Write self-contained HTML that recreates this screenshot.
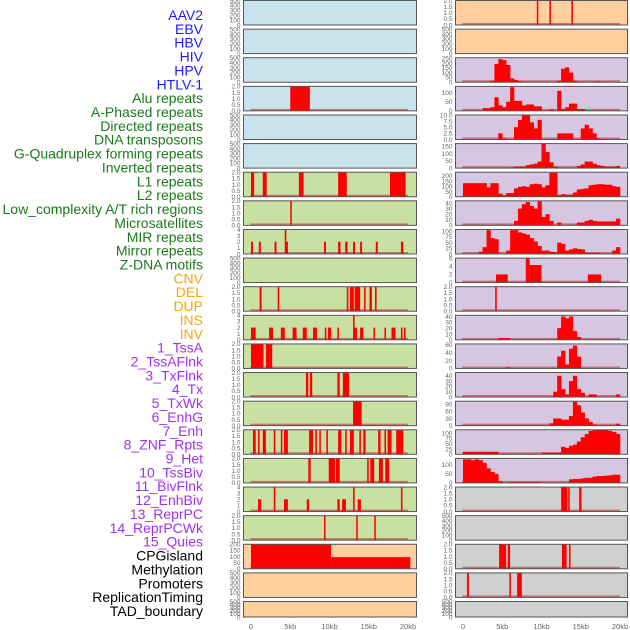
<!DOCTYPE html>
<html><head><meta charset="utf-8">
<style>
html,body{margin:0;padding:0;background:#fff;}
svg{display:block;font-family:"Liberation Sans",sans-serif;}
</style></head>
<body>
<svg id="chart" width="630" height="630" viewBox="0 0 630 630" xmlns="http://www.w3.org/2000/svg"></svg>
<script>
// ---- labels ----
const labelNames = ["AAV2","EBV","HBV","HIV","HPV","HTLV-1","Alu repeats","A-Phased repeats","Directed repeats","DNA transposons","G-Quadruplex forming repeats","Inverted repeats","L1 repeats","L2 repeats","Low_complexity A/T rich regions","Microsatellites","MIR repeats","Mirror repeats","Z-DNA motifs","CNV","DEL","DUP","INS","INV","1_TssA","2_TssAFlnk","3_TxFlnk","4_Tx","5_TxWk","6_EnhG","7_Enh","8_ZNF_Rpts","9_Het","10_TssBiv","11_BivFlnk","12_EnhBiv","13_ReprPC","14_ReprPCWk","15_Quies","CPGisland","Methylation","Promoters","ReplicationTiming","TAD_boundary"];
const labelGroups = [6,13,5,15,5];
const groupColors = ["#1a1aff","#1a7a1a","#ffa500","#a030f0","#000000"];
const xTicks = [0,5,10,15,20];
const xTickLabels = ["0","5kb","10kb","15kb","20kb"];

// ---- left column intervals [startKb,endKb,height] ----
const L3 = [[5.0,7.5,2]];
const L6 = [[0,0.4,2],[1.5,2.0,2],[6.1,6.7,2],[11.1,12.2,2],[17.7,19.7,2]];
const L7 = [[5.0,5.2,2]];
const L8 = [[0,0.25,2],[1.0,1.25,2],[3.0,3.25,2],[4.3,4.5,4],[4.4,4.7,2],[9.3,9.55,2],[11.1,11.4,2],[12.0,12.3,2],[13.0,13.25,2],[13.9,14.15,2],[15.9,16.15,2],[19.1,19.4,2]];
const L10 = [[1.1,1.35,2],[3.4,3.6,2],[12.2,12.4,2],[12.6,13.1,2],[13.2,13.9,2],[14.4,14.6,2],[15.1,15.4,2],[15.8,16.0,2]];
const L11 = [[0,0.6,2],[2.3,2.8,2],[3.8,4.3,2],[5.3,5.8,2],[6.6,7.1,2],[7.9,8.4,2],[9.4,9.6,2],[9.8,10.2,2],[11.0,11.2,2],[13.0,13.5,2],[13.0,13.2,4],[13.9,14.3,2],[15.6,15.8,2],[17.0,17.2,2],[17.9,18.4,2],[19.1,19.3,2],[19.5,19.7,2]];
const L12 = [[0,1.6,2],[1.9,2.7,2]];
const L13 = [[7.0,7.3,2],[7.5,7.8,2],[11.0,11.3,2],[11.7,12.5,2]];
const L14 = [[13.0,14.1,2]];
const L15 = [[0.25,0.6,2],[0.9,1.1,2],[1.5,1.9,2],[2.9,3.1,2],[3.8,4.0,2],[4.2,4.7,2],[7.4,7.9,2],[8.2,8.4,2],[8.7,8.9,2],[9.6,9.8,2],[11.1,11.5,2],[12.0,12.2,2],[12.6,13.1,2],[13.8,14.0,2],[14.3,14.6,2],[16.2,16.5,2],[17.0,17.2,2],[17.4,17.9,2],[18.5,19.4,2]];
const L16 = [[7.3,7.6,2],[9.9,10.7,2],[10.8,11.3,2],[14.8,15.0,2],[15.2,15.7,2],[16.3,16.8,2],[17.1,17.6,2]];
const L17 = [[0.9,1.3,2],[2.9,3.1,4],[4.2,4.7,2],[7.1,7.4,2],[11.0,11.3,2],[11.6,12.1,2],[13.0,13.2,4],[13.6,14.0,2],[19.1,19.3,4]];
const L18 = [[9.3,9.5,2],[13.4,13.6,2],[15.7,15.9,2]];
const L19 = [[0,10.2,200],[10.2,20.3,95]];

// ---- right column intervals ----
const R0 = [[9.4,9.6,2],[11.0,11.2,2],[13.8,14.0,2]];
const R9 = [[4.2,5.7,2],[8.0,8.5,6],[8.5,10.0,4.3],[15.9,17.6,2]];
const R10 = [[4.1,4.3,2]];
const R17 = [[12.5,13.3,2],[13.4,13.6,2],[14.8,15.1,2]];
const R19 = [[4.6,5.5,2],[5.7,6.0,2],[12.6,13.2,2],[13.5,13.7,2]];
const R20 = [[0.5,0.75,2],[5.9,6.1,2],[6.9,7.5,2]];

// ---- right column histograms (0.5 kb bins, 40 bins) ----
const R2 = [0,0,0,0,0,0,5,15,190,240,230,180,40,25,10,0,0,0,0,0,0,0,0,0,15,140,155,100,15,5,0,0,0,0,10,0,0,0,0,0];
const R3 = [0,0,0,0,0,15,15,20,75,30,20,50,130,55,55,30,35,35,25,25,0,0,8,0,110,10,20,40,40,10,10,0,0,0,0,0,0,0,0,0];
const R4 = [0,0,0,0,0,0,0,0,0,2.5,0.5,0,0,5,8,10,10,7,4.5,8,0,0,0,0,2.5,2.5,2.5,2.5,0,0,4.5,6,4.5,2.5,0.5,0,0,0,0,0];
const R5 = [0,0,0,0,0,0,0,0,0,0,0,0,5,10,10,10,20,25,30,45,170,110,40,10,0,0,0,0,0,15,25,45,45,30,20,15,10,10,10,15];
const R6 = [130,130,130,130,130,130,90,130,130,30,10,35,35,80,95,100,95,120,125,120,90,110,230,230,15,25,20,20,40,70,75,80,110,115,120,120,115,115,100,95];
const R7 = [0,0,0,0,0,0,0,0,0,0,0,0,0,8,30,38,42,35,30,43,15,20,8,0,5,0,0,0,0,5,5,8,10,8,7,7,7,7,7,12];
const R8 = [0,0,0,0,10,30,105,70,65,0,0,15,105,105,95,90,85,70,55,35,15,15,10,8,50,45,15,20,25,22,20,5,5,5,5,0,0,0,15,30];
const R11 = [0,0,0,0,0,0,0,0,0,3,3,3,0,0,0,0,0,0,0,0,0,0,0,0,20,40,37,40,15,5,0,0,0,0,0,0,0,0,0,0];
const R12 = [0,0,0,0,0,0,0,0,0,0,0,3,0,0,0,0,0,0,0,0,0,0,0,0,30,45,10,50,58,30,0,0,0,0,0,0,0,0,0,0];
const R13 = [0,0,0,0,0,0,0,0,0,0,0,0,0,0,0,0,0,0,0,0,0,0,0,10,40,15,5,30,40,15,8,0,5,5,0,0,0,0,0,5];
const R14 = [0,0,0,0,0,0,0,0,0,0,0,0,0,0,0,0,0,0,0,0,0,0,10,30,30,25,25,40,100,85,55,30,15,5,0,0,0,0,0,8];
const R15 = [12,12,12,12,12,12,12,12,12,2,2,2,2,2,2,2,2,2,2,2,8,8,8,8,8,35,30,40,45,60,80,95,110,115,115,115,115,110,105,95];
const R16 = [130,130,125,130,125,110,80,60,50,10,0,0,5,5,5,5,5,5,5,5,0,0,0,0,0,0,0,20,22,22,25,28,28,35,38,38,40,42,45,45];

// ---- y tick sets ----
const tickEmpty = [0,100,200,300,400,500];
const tickBin = [0,0.5,1,1.5,2];
const tick4 = [0,1,2,3,4];

const bgBlue="#c8e3eb", bgGreen="#c8e0a2", bgPeach="#ffd09e", bgPurple="#d6c6e2", bgGray="#d0d0d0";

// track definitions: [data, kind, yMax, ticks, tickDecimals, bg]
const leftTracks = [
 [null,"e",500,tickEmpty,0,bgBlue],[null,"e",500,tickEmpty,0,bgBlue],[null,"e",500,tickEmpty,0,bgBlue],
 [L3,"i",2,tickBin,1,bgBlue],[null,"e",500,tickEmpty,0,bgBlue],[null,"e",500,tickEmpty,0,bgBlue],
 [L6,"i",2,tickBin,1,bgGreen],[L7,"i",2,tickBin,1,bgGreen],[L8,"i",4,tick4,0,bgGreen],
 [null,"e",500,tickEmpty,0,bgGreen],[L10,"i",2,tickBin,1,bgGreen],[L11,"i",4,tick4,0,bgGreen],
 [L12,"i",2,tickBin,1,bgGreen],[L13,"i",2,tickBin,1,bgGreen],[L14,"i",2,tickBin,1,bgGreen],
 [L15,"i",2,tickBin,1,bgGreen],[L16,"i",2,tickBin,1,bgGreen],[L17,"i",4,tick4,0,bgGreen],
 [L18,"i",2,tickBin,1,bgGreen],[L19,"i",200,[0,50,100,150,200],0,bgPeach],
 [null,"e",500,tickEmpty,0,bgPeach],[null,"e",500,tickEmpty,0,bgPeach]
];
const rightTracks = [
 [R0,"i",2,tickBin,1,bgPeach],[null,"e",500,tickEmpty,0,bgPeach],
 [R2,"h",255,[0,50,100,150,200,250],0,bgPurple],[R3,"h",135,[0,50,100],0,bgPurple],
 [R4,"h",10,[0,2.5,5,7.5,10],1,bgPurple],[R5,"h",168,[0,50,100,150],0,bgPurple],
 [R6,"h",235,[0,50,100,150,200],0,bgPurple],[R7,"h",44,[0,10,20,30,40],0,bgPurple],
 [R8,"h",108,[0,25,50,75,100],0,bgPurple],[R9,"i",6,[0,2,4,6],0,bgPurple],
 [R10,"i",2,tickBin,1,bgPurple],[R11,"h",42,[0,10,20,30,40],0,bgPurple],
 [R12,"h",62,[0,20,40,60],0,bgPurple],[R13,"h",46,[0,10,20,30,40],0,bgPurple],
 [R14,"h",102,[0,30,60,90],0,bgPurple],[R15,"h",115,[0,25,50,75,100],0,bgPurple],
 [R16,"h",135,[0,50,100],0,bgPurple],[R17,"i",2,tickBin,1,bgGray],
 [null,"e",500,tickEmpty,0,bgGray],[R19,"i",2,tickBin,1,bgGray],
 [R20,"i",2,tickBin,1,bgGray],[null,"e",500,tickEmpty,0,bgGray]
];

const NS="http://www.w3.org/2000/svg";
const svg=document.getElementById("chart");
function mk(tag,attrs,parent){const e=document.createElementNS(NS,tag);for(const k in attrs)e.setAttribute(k,attrs[k]);(parent||svg).appendChild(e);return e;}

// labels
let li=0;
labelGroups.forEach((n,g)=>{for(let k=0;k<n;k++){
  const t=mk("text",{x:203,y:15+li*13.86+5,"text-anchor":"end","font-size":"14",fill:groupColors[g]});
  t.textContent=labelNames[li];
  
  
  li++;}});

function rowTop(i){return i*28.62;}
function rowH(i){return i===21?15.5:24.5;}

function drawColumn(tracks,panelX,panelW,x0,colName){
  const xs=kb=>x0+kb*7.85;
  const g=mk("g",{});
  
  
  tracks.forEach((tr,i)=>{
    const [data,kind,ymax,ticks,dec,bg]=tr;
    const top=rowTop(i)+0.5,h=rowH(i),bot=top+h;
    const ys=v=>bot-(v/ymax)*h;
    const p=mk("g",{},g);
    
    
    mk("rect",{x:panelX,y:top,width:panelW,height:h,fill:bg,stroke:"none"},p);
    ticks.forEach(tv=>{
      const ty=ys(tv);
      const t=mk("text",{x:panelX-3,y:ty+2.3,"text-anchor":"end","font-size":"6.5",fill:"#666"},p);
      t.textContent=tv.toFixed(dec);
      
      
    });
    if(kind!=="e"){
      mk("line",{x1:xs(-0.1),x2:xs(20),y1:bot-1,y2:bot-1,stroke:"rgba(190,40,40,0.55)","stroke-width":2},p);
    }
    if(kind==="i"){
      data.forEach(d=>{
        const r=mk("rect",{x:xs(d[0]),y:ys(d[2]),width:Math.max(1.2,xs(d[1])-xs(d[0])),height:bot-ys(d[2]),fill:"#ff0000"},p);
        
        
      });
    } else if(kind==="h"){
      data.forEach((v,b)=>{
        if(v<=0)return;
        const r=mk("rect",{x:xs(b*0.5),y:ys(v),width:xs(0.5)-xs(0)+0.3,height:bot-ys(v),fill:"#ff0000"},p);
        
        
      });
    }
    mk("rect",{x:panelX,y:top,width:panelW,height:h,fill:"none",stroke:"#555","stroke-width":1},p);
  });
  xTicks.forEach((v,k)=>{
    const t=mk("text",{x:xs(v),y:629,"text-anchor":"middle","font-size":"7.5",fill:"#666"},g);
    t.textContent=xTickLabels[k];
    
    
  });
}
drawColumn(leftTracks,243.5,173,251,"left-track-column");
drawColumn(rightTracks,455.5,172,463,"right-track-column");
</script>
</body></html>
